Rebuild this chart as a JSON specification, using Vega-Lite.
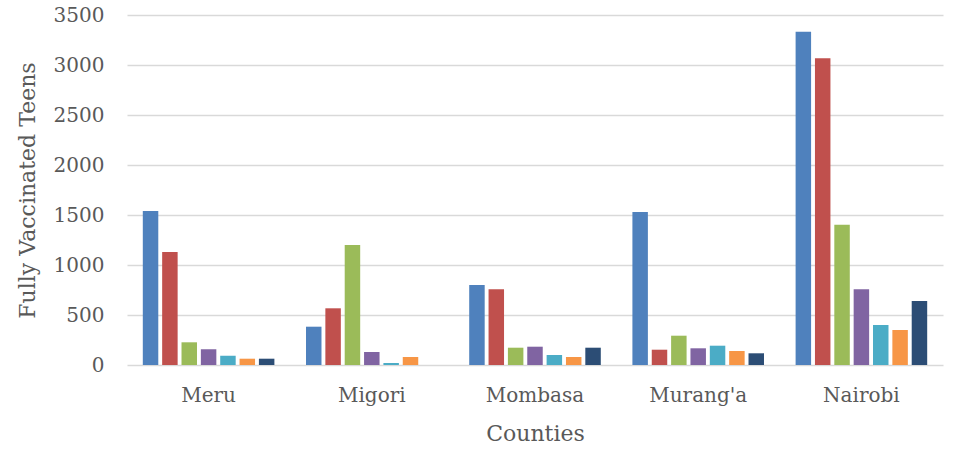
{
  "$schema": "https://vega.github.io/schema/vega-lite/v6.json",
  "width": 816,
  "height": 350,
  "autosize": {"type": "none"},
  "padding": {"left": 127, "top": 15, "right": 14, "bottom": 84},
  "background": "white",
  "config": {
    "view": {"stroke": null},
    "font": "DejaVu Serif"
  },
  "data": {
    "values": [
      {"county": "Meru", "series": "S1", "value": 1540},
      {"county": "Meru", "series": "S2", "value": 1130},
      {"county": "Meru", "series": "S3", "value": 227},
      {"county": "Meru", "series": "S4", "value": 157},
      {"county": "Meru", "series": "S5", "value": 93},
      {"county": "Meru", "series": "S6", "value": 63},
      {"county": "Meru", "series": "S7", "value": 63},
      {"county": "Migori", "series": "S1", "value": 383},
      {"county": "Migori", "series": "S2", "value": 567},
      {"county": "Migori", "series": "S3", "value": 1200},
      {"county": "Migori", "series": "S4", "value": 130},
      {"county": "Migori", "series": "S5", "value": 20},
      {"county": "Migori", "series": "S6", "value": 80},
      {"county": "Migori", "series": "S7", "value": 0},
      {"county": "Mombasa", "series": "S1", "value": 800},
      {"county": "Mombasa", "series": "S2", "value": 757},
      {"county": "Mombasa", "series": "S3", "value": 173},
      {"county": "Mombasa", "series": "S4", "value": 183},
      {"county": "Mombasa", "series": "S5", "value": 100},
      {"county": "Mombasa", "series": "S6", "value": 80},
      {"county": "Mombasa", "series": "S7", "value": 173},
      {"county": "Murang'a", "series": "S1", "value": 1530},
      {"county": "Murang'a", "series": "S2", "value": 153},
      {"county": "Murang'a", "series": "S3", "value": 293},
      {"county": "Murang'a", "series": "S4", "value": 167},
      {"county": "Murang'a", "series": "S5", "value": 193},
      {"county": "Murang'a", "series": "S6", "value": 140},
      {"county": "Murang'a", "series": "S7", "value": 117},
      {"county": "Nairobi", "series": "S1", "value": 3333},
      {"county": "Nairobi", "series": "S2", "value": 3067},
      {"county": "Nairobi", "series": "S3", "value": 1403},
      {"county": "Nairobi", "series": "S4", "value": 757},
      {"county": "Nairobi", "series": "S5", "value": 400},
      {"county": "Nairobi", "series": "S6", "value": 350},
      {"county": "Nairobi", "series": "S7", "value": 640}
    ]
  },
  "mark": {"type": "bar"},
  "encoding": {
    "x": {
      "field": "county",
      "type": "nominal",
      "sort": null,
      "title": "Counties",
      "scale": {"paddingInner": 0.17, "paddingOuter": 0.085},
      "axis": {
        "labelAngle": 0,
        "ticks": false,
        "domain": false,
        "labelPadding": 20,
        "labelFontSize": 20,
        "labelColor": "#595959",
        "titleFontSize": 22,
        "titleFontWeight": "normal",
        "titleColor": "#595959",
        "titlePadding": 18
      }
    },
    "xOffset": {
      "field": "series",
      "type": "nominal",
      "scale": {"paddingInner": 0.2, "paddingOuter": 0.1}
    },
    "y": {
      "field": "value",
      "type": "quantitative",
      "title": "Fully Vaccinated Teens",
      "scale": {"domain": [0, 3500], "nice": false},
      "axis": {
        "values": [0, 500, 1000, 1500, 2000, 2500, 3000, 3500],
        "format": "d",
        "ticks": false,
        "domain": false,
        "grid": true,
        "gridColor": "#d9d9d9",
        "gridWidth": 1.5,
        "labelPadding": 23,
        "labelFontSize": 20,
        "labelColor": "#595959",
        "titleFontSize": 22,
        "titleFontWeight": "normal",
        "titleColor": "#595959",
        "titlePadding": 14
      }
    },
    "color": {
      "field": "series",
      "type": "nominal",
      "legend": null,
      "scale": {
        "domain": ["S1", "S2", "S3", "S4", "S5", "S6", "S7"],
        "range": ["#4f81bd", "#c0504d", "#9bbb59", "#8064a2", "#4bacc6", "#f79646", "#2c4d75"]
      }
    }
  }
}
